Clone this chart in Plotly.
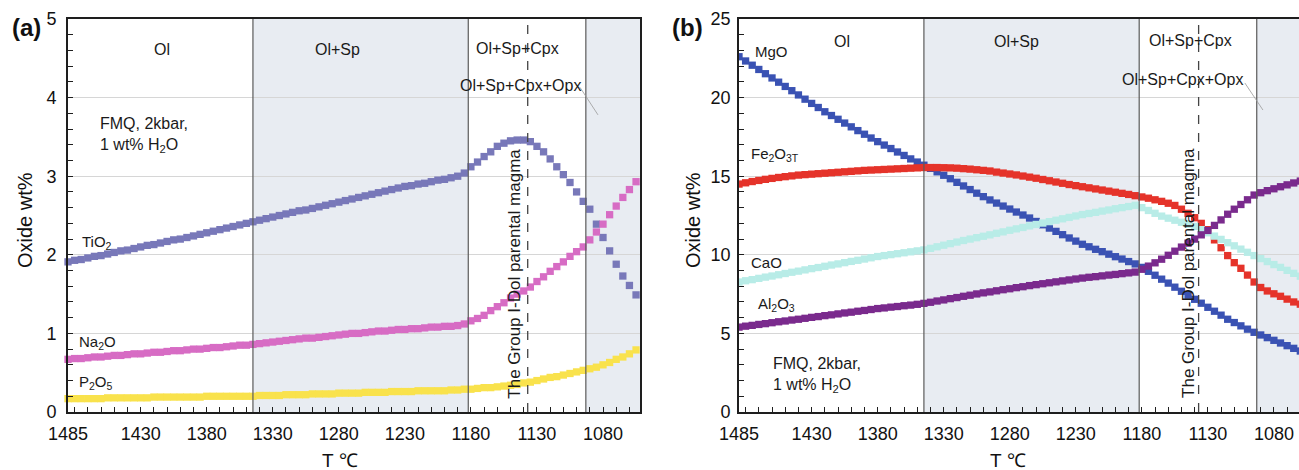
import plotly.graph_objects as go

# ---------------- data ----------------
T = list(range(1485, 1050, -5))  # temperature steps, degC

TiO2 = [1.91,1.93,1.94,1.96,1.98,1.99,2.01,2.03,2.05,2.06,
        2.08,2.10,2.12,2.13,2.15,2.17,2.19,2.20,2.22,2.24,
        2.26,2.28,2.30,2.32,2.34,2.36,2.38,2.40,2.42,2.44,
        2.46,2.48,2.50,2.52,2.54,2.56,2.57,2.59,2.61,2.63,
        2.65,2.67,2.69,2.71,2.73,2.75,2.77,2.79,2.81,2.83,
        2.85,2.87,2.88,2.90,2.91,2.93,2.95,2.96,2.98,3.00,
        3.04,3.12,3.18,3.25,3.31,3.38,3.42,3.45,3.46,3.46,
        3.44,3.38,3.31,3.22,3.12,3.02,2.92,2.80,2.68,2.58,
        2.39,2.22,2.05,1.88,1.73,1.61,1.49]
Na2O = [0.67,0.68,0.68,0.69,0.70,0.70,0.71,0.72,0.72,0.73,
        0.74,0.74,0.75,0.76,0.76,0.77,0.78,0.78,0.79,0.80,
        0.80,0.81,0.82,0.82,0.83,0.84,0.85,0.85,0.86,0.87,
        0.88,0.89,0.90,0.91,0.92,0.93,0.94,0.94,0.95,0.96,
        0.97,0.98,0.99,1.00,1.00,1.01,1.02,1.03,1.03,1.04,
        1.05,1.05,1.06,1.06,1.07,1.08,1.08,1.09,1.09,1.10,
        1.12,1.16,1.19,1.23,1.29,1.34,1.39,1.45,1.50,1.54,
        1.59,1.66,1.72,1.79,1.85,1.91,1.98,2.04,2.10,2.19,
        2.29,2.39,2.51,2.62,2.73,2.83,2.93]
P2O5 = [0.17,0.17,0.17,0.17,0.17,0.17,0.18,0.18,0.18,0.18,
        0.18,0.18,0.18,0.19,0.19,0.19,0.19,0.19,0.19,0.19,
        0.19,0.20,0.20,0.20,0.20,0.20,0.20,0.20,0.20,0.21,
        0.21,0.21,0.21,0.22,0.22,0.22,0.22,0.23,0.23,0.23,
        0.23,0.24,0.24,0.24,0.24,0.25,0.25,0.25,0.25,0.26,
        0.26,0.26,0.26,0.27,0.27,0.27,0.27,0.27,0.28,0.28,
        0.29,0.29,0.30,0.31,0.31,0.32,0.33,0.34,0.35,0.37,
        0.38,0.40,0.42,0.44,0.45,0.47,0.49,0.51,0.53,0.55,
        0.57,0.60,0.63,0.67,0.70,0.74,0.79]

MgO = [22.60,22.33,22.06,21.79,21.52,21.25,20.98,20.71,20.44,20.17,
       19.90,19.63,19.37,19.10,18.86,18.62,18.38,18.14,17.90,17.67,
       17.43,17.20,16.98,16.76,16.54,16.32,16.10,15.90,15.70,15.50,
       15.28,15.06,14.84,14.61,14.38,14.15,13.92,13.70,13.49,13.29,
       13.10,12.91,12.72,12.53,12.34,12.12,11.91,11.70,11.49,11.28,
       11.07,10.87,10.67,10.51,10.35,10.20,10.04,9.88,9.73,9.57,
       9.42,9.20,8.95,8.70,8.45,8.20,7.94,7.68,7.43,7.17,
       6.92,6.66,6.41,6.16,5.90,5.69,5.48,5.27,5.07,4.90,
       4.73,4.56,4.39,4.22,4.05,3.88,3.72]
Fe2O3T = [14.50,14.58,14.66,14.73,14.80,14.86,14.92,14.97,15.02,15.07,
          15.10,15.13,15.16,15.19,15.22,15.25,15.28,15.31,15.34,15.37,
          15.39,15.41,15.43,15.45,15.47,15.49,15.51,15.53,15.55,15.55,
          15.55,15.54,15.53,15.51,15.48,15.45,15.41,15.37,15.33,15.26,
          15.20,15.14,15.08,15.01,14.94,14.87,14.79,14.71,14.63,14.55,
          14.47,14.40,14.33,14.26,14.19,14.12,14.05,13.98,13.91,13.84,
          13.76,13.68,13.60,13.50,13.40,13.28,13.14,12.90,12.64,12.36,
          12.00,11.60,10.95,10.45,9.95,9.50,9.14,8.71,8.27,7.92,
          7.70,7.52,7.36,7.18,7.00,6.86,6.72]
CaO = [8.27,8.35,8.42,8.50,8.58,8.65,8.73,8.81,8.89,8.96,
       9.04,9.12,9.19,9.27,9.35,9.42,9.50,9.58,9.65,9.73,
       9.81,9.89,9.95,10.01,10.07,10.13,10.19,10.25,10.31,10.41,
       10.51,10.61,10.71,10.81,10.91,11.00,11.09,11.18,11.27,11.37,
       11.46,11.56,11.65,11.74,11.84,11.93,12.02,12.11,12.20,12.29,
       12.38,12.47,12.56,12.63,12.70,12.78,12.85,12.93,13.00,13.07,
       13.15,13.00,12.82,12.64,12.46,12.33,12.20,12.07,11.94,11.81,
       11.60,11.40,11.19,10.98,10.77,10.57,10.36,10.16,9.95,9.76,
       9.57,9.38,9.20,9.01,8.82,8.64,8.46]
Al2O3 = [5.40,5.46,5.51,5.57,5.62,5.68,5.74,5.79,5.85,5.90,
         5.96,6.02,6.07,6.13,6.18,6.24,6.30,6.35,6.41,6.46,
         6.52,6.58,6.62,6.67,6.71,6.76,6.80,6.85,6.91,6.98,
         7.06,7.13,7.21,7.28,7.36,7.43,7.51,7.58,7.64,7.71,
         7.78,7.84,7.91,7.97,8.04,8.10,8.16,8.22,8.28,8.34,
         8.40,8.46,8.52,8.57,8.61,8.66,8.71,8.75,8.80,8.85,
         8.90,9.08,9.28,9.49,9.72,9.97,10.23,10.49,10.74,11.00,
         11.27,11.55,11.87,12.22,12.58,12.90,13.20,13.50,13.80,13.95,
         14.08,14.20,14.33,14.45,14.57,14.69,14.80]

TICK_VALS = [1485, 1430, 1380, 1330, 1280, 1230, 1180, 1130, 1080]
TICK_TEXT = ["1485", "1430", "1380", "1330", "1280", "1230", "1180", "1130", "1080"]

# phase boundaries (degC)
T_OL_SP = 1345
T_SP_CPX = 1182
T_OPX = 1093
T_PARENT = 1137

# ---------------- styling ----------------
FONT = "Arial, Liberation Sans, sans-serif"
W, H = 1299, 470
YD = [1 - 412 / H, 1 - 19 / H]
XA = [68 / W, 640 / W]
XB = [739 / W, 1.0]
SHADE = "#e8ecf2"
VLINE = "#5a5a5a"

fig = go.Figure()

def add_series(x, y, color, xa, ya, clip):
    fig.add_trace(go.Scatter(
        x=x, y=y, mode="markers", xaxis=xa, yaxis=ya, cliponaxis=clip,
        marker=dict(symbol="square", size=7.3, color=color, line=dict(width=0)),
        showlegend=False, hoverinfo="x+y"))

add_series(T, TiO2, "#7878b9", "x", "y", False)
add_series(T, Na2O, "#d76cc4", "x", "y", False)
add_series(T, P2O5, "#f9e24c", "x", "y", False)

add_series(T, MgO, "#3a52b3", "x2", "y2", True)
add_series(T, Fe2O3T, "#e5332a", "x2", "y2", True)
add_series(T, CaO, "#b8ece7", "x2", "y2", True)
add_series(T, Al2O3, "#7a2a8d", "x2", "y2", True)

shapes = []
for xr, yr, xend in (("x", "y", 1052), ("x2", "y2", 1055)):
    for a, b in ((T_OL_SP, T_SP_CPX), (T_OPX, xend)):
        shapes.append(dict(type="rect", xref=xr, yref=yr + " domain", x0=a, x1=b,
                           y0=0, y1=1, fillcolor=SHADE, line=dict(width=0), layer="below"))
    for v in (T_OL_SP, T_SP_CPX, T_OPX):
        shapes.append(dict(type="line", xref=xr, yref=yr + " domain", x0=v, x1=v,
                           y0=0, y1=1, line=dict(color=VLINE, width=1.2), layer="above"))
    shapes.append(dict(type="line", xref=xr, yref=yr + " domain", x0=T_PARENT, x1=T_PARENT,
                       y0=0, y1=1, line=dict(color="#444", width=1.3, dash="dash"), layer="above"))

# leader lines for Ol+Sp+Cpx+Opx
shapes.append(dict(type="line", xref="x", yref="y", x0=1097.4, y0=4.13, x1=1083.8, y1=3.78,
                   line=dict(color="#9a9a9a", width=0.8)))
shapes.append(dict(type="line", xref="x2", yref="y2", x0=1102, y0=20.93, x1=1088.3, y1=19.21,
                   line=dict(color="#9a9a9a", width=0.8)))

TXT = dict(size=16, color="#1a1a1a", family=FONT)
ann = []
def label(text, x, y, xr, yr, xanchor="center", size=16, **kw):
    f = dict(TXT); f["size"] = size
    ann.append(dict(text=text, x=x, y=y, xref=xr, yref=yr, showarrow=False,
                    xanchor=xanchor, yanchor="middle", font=f, **kw))

# panel (a)
label("Ol", 1413.8, 4.61, "x", "y")
label("Ol+Sp", 1281, 4.61, "x", "y")
label("Ol+Sp+Cpx", 1145, 4.63, "x", "y")
label("Ol+Sp+Cpx+Opx", 1142.8, 4.16, "x", "y")
label("FMQ, 2kbar,<br>1 wt% H<sub>2</sub>O", 1462.3, 3.53, "x", "y", xanchor="left", align="left")
label("TiO<sub>2</sub>", 1475.9, 2.16, "x", "y", xanchor="left", size=15)
label("Na<sub>2</sub>O", 1478.2, 0.88, "x", "y", xanchor="left", size=15)
label("P<sub>2</sub>O<sub>5</sub>", 1478.2, 0.37, "x", "y", xanchor="left", size=15)
label("The Group I-Dol parental magma", 1146.6, 1.76, "x", "y", size=17, textangle=-90)

# panel (b)
label("Ol", 1407, 23.54, "x2", "y2")
label("Ol+Sp", 1274.6, 23.54, "x2", "y2")
label("Ol+Sp+Cpx", 1142.8, 23.66, "x2", "y2")
label("Ol+Sp+Cpx+Opx", 1148.9, 21.12, "x2", "y2")
label("MgO", 1474.4, 22.96, "x2", "y2", xanchor="left", size=15)
label("Fe<sub>2</sub>O<sub>3T</sub>", 1477.4, 16.35, "x2", "y2", xanchor="left", size=15)
label("CaO", 1477.4, 9.48, "x2", "y2", xanchor="left", size=15)
label("Al<sub>2</sub>O<sub>3</sub>", 1472.1, 6.87, "x2", "y2", xanchor="left", size=15)
label("FMQ, 2kbar,<br>1 wt% H<sub>2</sub>O", 1460.8, 2.35, "x2", "y2", xanchor="left", align="left")
label("The Group I-Dol parental magma", 1145.1, 8.84, "x2", "y2", size=17, textangle=-90)

# panel letters and axis titles (paper coords from pixels)
def pl(text, px, py, size, bold=False, angle=0):
    ann.append(dict(text=("<b>%s</b>" % text) if bold else text, x=px / W, y=1 - py / H,
                    xref="paper", yref="paper", showarrow=False, xanchor="center",
                    yanchor="middle", textangle=angle,
                    font=dict(size=size, color="#111", family=FONT)))

pl("(a)", 27, 28, 24, bold=True)
pl("(b)", 687, 28, 24, bold=True)
pl("Oxide wt%", 25, 220, 20, angle=-90)
pl("Oxide wt%", 693, 220, 20, angle=-90)
pl("T ℃", 340, 460, 19)
pl("T ℃", 1008, 460, 19)

AX = dict(showline=True, linecolor="#1e1e1e", linewidth=1.8, zeroline=False,
          ticks="inside", ticklen=5, tickwidth=1, tickcolor="#1e1e1e", automargin=False,
          tickfont=dict(size=18, color="#111", family=FONT))

xcommon = dict(AX, tickmode="array", tickvals=TICK_VALS, ticktext=TICK_TEXT,
               showgrid=False, mirror=True, ticklabelstandoff=4,
               minor=dict(tickmode="array", tickvals=list(range(1480, 1050, -10)),
                          ticks="inside", ticklen=5, tickcolor="#1e1e1e", showgrid=False))

fig.update_layout(
    width=W, height=H, margin=dict(l=0, r=0, t=0, b=0, autoexpand=False),
    paper_bgcolor="white", plot_bgcolor="white",
    font=dict(family=FONT),
    xaxis=dict(xcommon, domain=XA, range=[1485, 1052], anchor="y"),
    yaxis=dict(AX, domain=YD, range=[0, 5], dtick=1, tick0=0, anchor="x",
               showgrid=True, gridcolor="#d6d6d6", gridwidth=1, mirror=True,
               ticklabelstandoff=6,
               minor=dict(dtick=0.2, ticks="inside", ticklen=5, tickcolor="#1e1e1e", showgrid=False)),
    xaxis2=dict(xcommon, domain=XB, range=[1485, 1061], anchor="y2"),
    yaxis2=dict(AX, domain=YD, range=[0, 25], dtick=5, tick0=0, anchor="x2",
                showgrid=True, gridcolor="#d6d6d6", gridwidth=1, mirror=False,
                ticklabelstandoff=3,
                minor=dict(dtick=1, ticks="inside", ticklen=5, tickcolor="#1e1e1e", showgrid=False)),
    shapes=shapes, annotations=ann,
)

fig.write_html("out.html")
